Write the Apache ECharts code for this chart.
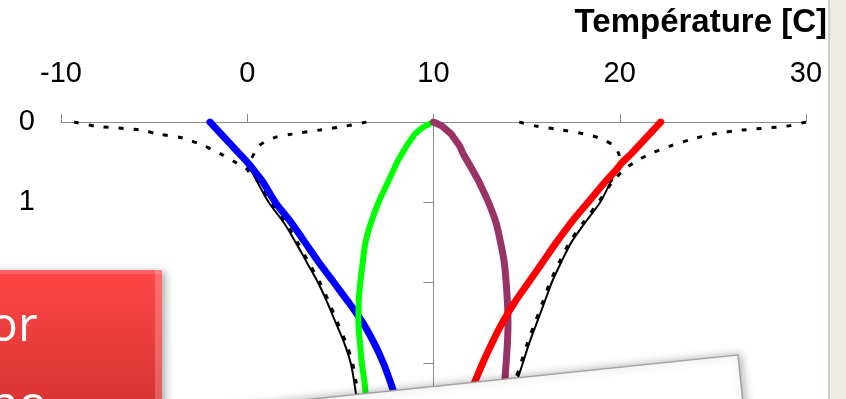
<!DOCTYPE html>
<html>
<head>
<meta charset="utf-8">
<script src="https://cdn.jsdelivr.net/npm/echarts@6/dist/echarts.min.js"></script>
<style>html,body{margin:0;padding:0;background:#EEEBE4;}#c{width:846px;height:399px;}</style>
</head>
<body>
<div id="c"></div>
<script>
// ---- data ----
const axisTitle = 'Température [C]';
const tempTicks = [-10, 0, 10, 20, 30];
const depthTicks = [0, 1, 2, 3, 4];
const depths = [0, 0.05, 0.1, 0.15, 0.2, 0.3, 0.4, 0.5, 0.6, 0.75, 1.0, 1.25, 1.5, 1.75, 2.0, 2.25, 2.5, 2.75, 3.0, 3.25, 3.5, 4.0];

const blueT   = [-2.0, -1.8, -1.6, -1.4, -1.2, -0.8, -0.4, 0.0, 0.35, 0.85, 1.5, 2.35, 3.1, 3.85, 4.65, 5.45, 6.2, 6.8, 7.3, 7.7, 8.05, 8.7];
const greenT  = [10.0, 9.55, 9.25, 9.0, 8.85, 8.55, 8.3, 8.05, 7.85, 7.55, 7.05, 6.65, 6.35, 6.2, 6.07, 5.98, 5.97, 6.05, 6.15, 6.3, 6.4, 6.6];
const purpleT = [10.0, 10.45, 10.7, 10.95, 11.1, 11.4, 11.6, 11.85, 12.1, 12.45, 12.95, 13.35, 13.6, 13.8, 13.9, 13.97, 14.0, 13.97, 13.9, 13.82, 13.75, 13.6];
const redT    = [22.2, 22.0, 21.8, 21.6, 21.4, 21.0, 20.6, 20.15, 19.8, 19.2, 18.3, 17.4, 16.6, 15.85, 15.1, 14.35, 13.7, 13.15, 12.65, 12.2, 11.8, 11.1];

const blackLeftT  = [null, null, null, null, null, null, null, 0.0, 0.2, 0.55, 1.15, 1.95, 2.6, 3.2, 3.8, 4.3, 4.75, 5.2, 5.55, 5.75, 5.9, 6.2];
const blackRightT = [null, null, null, null, null, null, null, 20.0, 19.8, 19.5, 18.95, 18.15, 17.4, 16.85, 16.35, 15.95, 15.55, 15.15, 14.8, 14.45, 14.1, 13.6];

const dotLeftOuterT  = [-9.3, -8.2, -5.7, -4.8, -3.45, -2.3, -1.4, -0.65, 0.05, 0.65, 1.25, 2.05, 2.7, 3.3, 3.9, 4.4, 4.85, 5.3, 5.65, 5.85, 6.0, 6.3];
const dotLeftInnerT  = [6.4, 5.3, 3.9, 2.4, 1.4, 0.6, 0.35, 0.15, 0.05, 0.65, null, null, null, null, null, null, null, null, null, null, null, null];
const dotRightInnerT = [14.6, 15.5, 16.9, 18.1, 18.9, 19.7, 19.95, 20.0, 19.8, 19.5, null, null, null, null, null, null, null, null, null, null, null, null];
const dotRightOuterT = [30.0, 29.0, 26.6, 25.0, 24.1, 22.7, 21.6, 20.8, 20.2, 19.6, 18.85, 18.05, 17.3, 16.75, 16.25, 15.85, 15.45, 15.05, 14.7, 14.35, 14.0, 13.5];

const overlayLines = ['or', 'no'];

// ---- build ----
function pairs(T) {
  const out = [];
  depths.forEach((d, i) => { if (T[i] !== null) out.push([T[i], d]); });
  return out;
}
function thick(name, T, color, w) {
  return { name, type: 'line', data: pairs(T), symbol: 'none', smooth: 0.3,
    lineStyle: { color, width: w, cap: 'round' }, z: 5, silent: true };
}
function thin(name, T) {
  return { name, type: 'line', data: pairs(T), symbol: 'none', smooth: 0.3,
    lineStyle: { color: '#000', width: 2 }, z: 3, silent: true };
}
function dotted(name, T) {
  return { name, type: 'line', data: pairs(T), symbol: 'none', smooth: 0.3,
    lineStyle: { color: '#000', width: 3, type: [5, 10] }, z: 3, silent: true };
}

const chart = echarts.init(document.getElementById('c'), null, { renderer: 'canvas' });
const gray = '#8C8C8C';
const font = 'Liberation Sans, Arial, sans-serif';
const TOP = 100;

chart.setOption({
  backgroundColor: '#EEEBE4',
  animation: false,
  title: {
    text: axisTitle, right: 14, top: 1,
    textStyle: { fontSize: 33, fontWeight: 'bold', fontFamily: font, color: '#000' }
  },
  grid: { left: 61, top: 122, width: 745, height: 321, containLabel: false, outerBoundsMode: 'none' },
  xAxis: [
    { type: 'value', position: 'top', min: tempTicks[0], max: tempTicks[tempTicks.length - 1], interval: 10,
      axisLine: { show: true, onZero: false, lineStyle: { color: gray, width: 1 } },
      axisTick: { show: true, inside: false, length: 8, lineStyle: { color: gray } },
      axisLabel: { fontSize: 29, color: '#000', fontFamily: font, margin: 34 },
      splitLine: { show: false } },
    { type: 'value', position: 'bottom', min: -20, max: 20, show: false }
  ],
  yAxis: [
    { type: 'value', inverse: true, min: depthTicks[0], max: depthTicks[depthTicks.length - 1], interval: 1, position: 'left',
      axisLine: { show: false }, axisTick: { show: false },
      axisLabel: { fontSize: 29, color: '#000', fontFamily: font, margin: 26 },
      splitLine: { show: false } },
    { type: 'value', inverse: true, min: depthTicks[0], max: depthTicks[depthTicks.length - 1], interval: 1, position: 'right',
      axisLine: { show: true, onZero: true, onZeroAxisIndex: 1, lineStyle: { color: gray, width: 1 } },
      axisTick: { show: true, inside: true, length: 10, lineStyle: { color: gray } },
      axisLabel: { show: false }, splitLine: { show: false } }
  ],
  series: [
    dotted('minOuter', dotLeftOuterT),
    dotted('minInner', dotLeftInnerT),
    dotted('maxInner', dotRightInnerT),
    dotted('maxOuter', dotRightOuterT),
    thin('envMin', blackLeftT),
    thin('envMax', blackRightT),
    thick('winter', blueT, '#0000FF', 7),
    thick('spring', greenT, '#00FF00', 6),
    thick('autumn', purpleT, '#993366', 7),
    thick('summer', redT, '#FF0000', 7)
  ],
  graphic: [
    { type: 'rect', z: -10, silent: true,
      shape: { x: -30, y: -20, width: 859, height: 450, r: 14 },
      style: { fill: '#FFFFFF', stroke: '#C4C2BC', lineWidth: 1.5 } },
    { type: 'rect', z: TOP, zlevel: 1, silent: true, shape: { x: -10, y: 270, width: 172, height: 160 },
      style: { fill: new echarts.graphic.LinearGradient(0, 0, 0, 1, [
        { offset: 0, color: '#FF4646' }, { offset: 1, color: '#D03030' }]),
        shadowBlur: 8, shadowOffsetX: 3, shadowOffsetY: 2, shadowColor: 'rgba(0,0,0,0.35)' } },
    { type: 'rect', z: TOP + 1, zlevel: 1, silent: true, shape: { x: 155, y: 270, width: 7, height: 160 },
      style: { fill: 'rgba(255,255,255,0.22)' } },
    { type: 'rect', z: TOP + 1, zlevel: 1, silent: true, shape: { x: -10, y: 270, width: 172, height: 4 },
      style: { fill: 'rgba(255,255,255,0.15)' } },
    { type: 'text', z: TOP + 2, zlevel: 1, silent: true, x: -11, y: 303,
      style: { text: overlayLines[0], fill: '#FFFFFF', font: '48px "Open Sans", sans-serif', verticalAlign: 'top' } },
    { type: 'text', z: TOP + 2, zlevel: 1, silent: true, x: -11, y: 382,
      style: { text: overlayLines[1], fill: '#FFFFFF', font: '48px "Open Sans", sans-serif', verticalAlign: 'top' } },
    { type: 'rect', z: TOP, zlevel: 1, silent: true, x: 738, y: 355, rotation: 0.103,
      shape: { x: -700, y: 0, width: 700, height: 200 },
      style: { fill: '#FFFFFF', stroke: '#A3A3A3', lineWidth: 1.5,
        shadowBlur: 10, shadowOffsetX: 2, shadowColor: 'rgba(0,0,0,0.3)' } }
  ]
});
</script>
</body>
</html>
